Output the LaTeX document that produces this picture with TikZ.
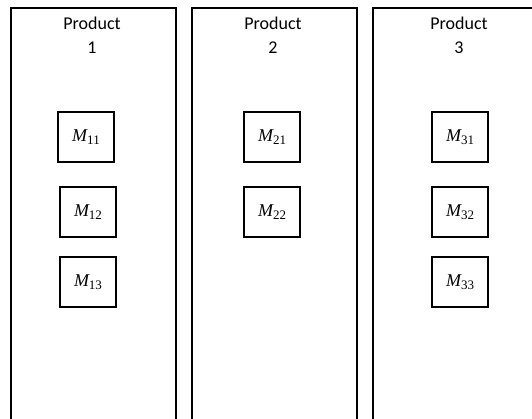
\documentclass[tikz,border=0pt]{standalone}
\usepackage{fontspec}
\setmainfont{Carlito}
\newfontfamily\symfont{Liberation Serif}
% machine label: italic M with an upright two-digit subscript
\newcommand{\mach}[1]{{\symfont\itshape M}\raisebox{-0.35ex}{\symfont\fontsize{13}{13}\selectfont #1}}
\begin{document}
\begin{tikzpicture}[x=1pt,y=-1pt,
  column/.style={draw, line width=1.8pt, minimum width=165pt, minimum height=430pt, anchor=north west, inner sep=0pt},
  title/.style={align=center, anchor=north, font=\fontsize{18}{24}\selectfont, inner sep=0pt},
  machine/.style={draw, line width=1.5pt, minimum width=56pt, minimum height=50pt, inner sep=0pt, font=\fontsize{18}{20}\selectfont}]
  \useasboundingbox (0,0) rectangle (532,418);
  \clip (0,0) rectangle (532,418);
  % product columns
  \node[column] (p1) at (10,7) {};
  \node[column] (p2) at (191,7) {};
  \node[column] (p3) at (372,7) {};
  % column titles
  \node[title] (t1) at (92,17) {Product\\1};
  \node[title] (t2) at (273,17) {Product\\2};
  \node[title] (t3) at (459,17) {Product\\3};
  % machines
  \node[machine] (m11) at (86,137) {\mach{11}};
  \node[machine] (m12) at (88,212) {\mach{12}};
  \node[machine] (m13) at (88,282) {\mach{13}};
  \node[machine] (m21) at (272,137) {\mach{21}};
  \node[machine] (m22) at (272,212) {\mach{22}};
  \node[machine] (m31) at (460,137) {\mach{31}};
  \node[machine] (m32) at (460,212) {\mach{32}};
  \node[machine] (m33) at (460,282) {\mach{33}};
\end{tikzpicture}
\end{document}
